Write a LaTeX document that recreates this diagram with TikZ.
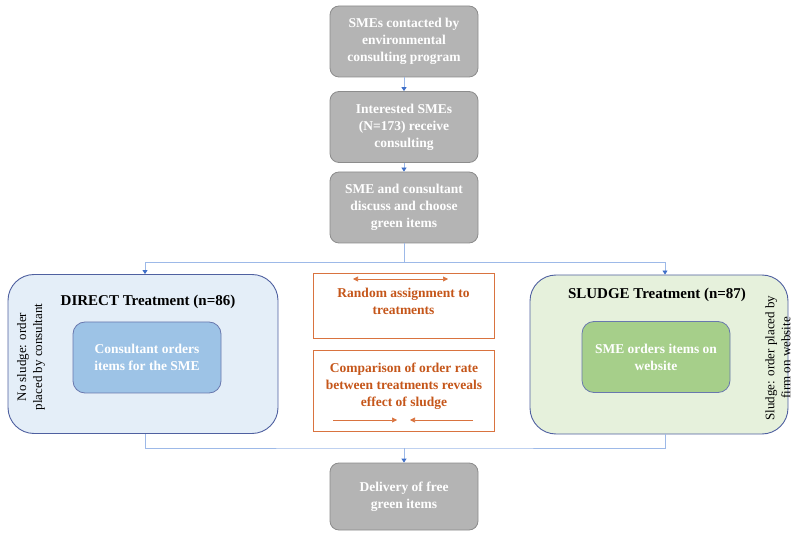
\documentclass[tikz,border=0pt]{standalone}
\usepackage{fontspec}
\setmainfont{Liberation Serif}
\usetikzlibrary{arrows.meta}

\definecolor{boxgray}{HTML}{B4B4B4}
\definecolor{edgegray}{HTML}{8C8C8C}
\definecolor{linkblue}{HTML}{9DB9E8}
\definecolor{tipblue}{HTML}{3F6FC8}
\definecolor{directfill}{HTML}{E4EEF8}
\definecolor{sludgefill}{HTML}{E6F1DC}
\definecolor{frameblue}{HTML}{4F60A0}
\definecolor{innerblue}{HTML}{9DC3E6}
\definecolor{innergreen}{HTML}{A6CF8A}
\definecolor{orangeline}{HTML}{D9733F}
\definecolor{orangetext}{HTML}{C5561A}

\begin{document}
\begin{tikzpicture}[x=1pt, y=-1pt,
          stage/.style={draw=edgegray, fill=boxgray, rounded corners=9, line width=0.8,
                        minimum width=148, minimum height=71, align=center, text=white,
                        font=\bfseries\fontsize{13.5}{17}\selectfont},
          treat/.style={draw=frameblue, rounded corners=26, line width=0.9, minimum height=159},
          inner/.style={draw=frameblue!85, rounded corners=12, line width=0.8,
                        minimum width=148, minimum height=71, align=center, text=white,
                        font=\bfseries\fontsize{13.5}{17}\selectfont},
          title/.style={font=\bfseries\fontsize{15}{18}\selectfont},
          side/.style={rotate=90, align=center, font=\fontsize{13}{16}\selectfont},
          frame/.style={draw=orangeline, line width=0.9, minimum width=181},
          remark/.style={align=center, text=orangetext, font=\bfseries\fontsize{13.5}{17}\selectfont},
          link/.style={draw=linkblue, line width=0.8, -{Triangle[length=4, width=5, color=tipblue]}},
          line/.style={draw=linkblue, line width=0.8},
          pointer/.style={draw=orangeline, line width=0.6}]
          \useasboundingbox (0,0) rectangle (795,534);
          % main steps
          \node[stage] (s1) at (404,41.5) {SMEs contacted by\\environmental\\consulting program};
          \node[stage] (s2) at (404,127) {Interested SMEs\\(N=173) receive\\consulting};
          \node[stage] (s3) at (404,207.5) {SME and consultant\\discuss and choose\\green items};
          \node[stage, minimum height=67] (deliv) at (404,496.5) {Delivery of free\\green items};
          % treatments
          \node[treat, fill=directfill, minimum width=270] (direct) at (143,354) {};
          \node[treat, fill=sludgefill, minimum width=258] (sludge) at (659,354.5) {};
          \node[title] (dtitle) at (148,302) {DIRECT Treatment (n=86)};
          \node[title] (stitle) at (657,295) {SLUDGE Treatment (n=87)};
          \node[inner, fill=innerblue] (dorder) at (147,357.5) {Consultant orders\\items for the SME};
          \node[inner, fill=innergreen] (sorder) at (656,357) {SME orders items on\\website};
          \node[side] (dnote) at (31,357) {No sludge: order\\placed by consultant};
          \node[side] (snote) at (778,358) {Sludge: order placed by\\firm on website};
          % middle remarks
          \node[frame, minimum height=65] (rframe) at (403.5,305.5) {};
          \node[remark] (rand) at (403.5,301.5) {Random assignment to\\treatments};
          \node[frame, minimum height=81] (cframe) at (404,390.5) {};
          \node[remark] (comp) at (404,386.5) {Comparison of order rate\\between treatments reveals\\effect of sludge};
          \coordinate (ra) at (353,279);
          \coordinate (rb) at (448,279);
          \coordinate (ca) at (333,420);
          \coordinate (cb) at (397,420);
          \coordinate (cc) at (473,420);
          \coordinate (cd) at (410,420);
          \draw[pointer, {Triangle[length=5, width=5]}-{Triangle[length=5, width=5]}] (ra) -- (rb);
          \draw[pointer, -{Triangle[length=5, width=5]}] (ca) -- (cb);
          \draw[pointer, -{Triangle[length=5, width=5]}] (cc) -- (cd);
          % connectors
          \coordinate (split) at (404,262);
          \coordinate (merge) at (404,448);
          \draw[link] (s1) -- (s2);
          \draw[link] (s2) -- (s3);
          \draw[line] (s3) -- (split);
          \draw[link] (split) -| ([xshift=2]direct.north);
          \draw[link] (split) -| ([xshift=6]sludge.north);
          \draw[line] ([xshift=2]direct.south) |- (merge) -| ([xshift=6]sludge.south);
          \draw[link] (merge) -- (deliv);
\end{tikzpicture}
\end{document}
